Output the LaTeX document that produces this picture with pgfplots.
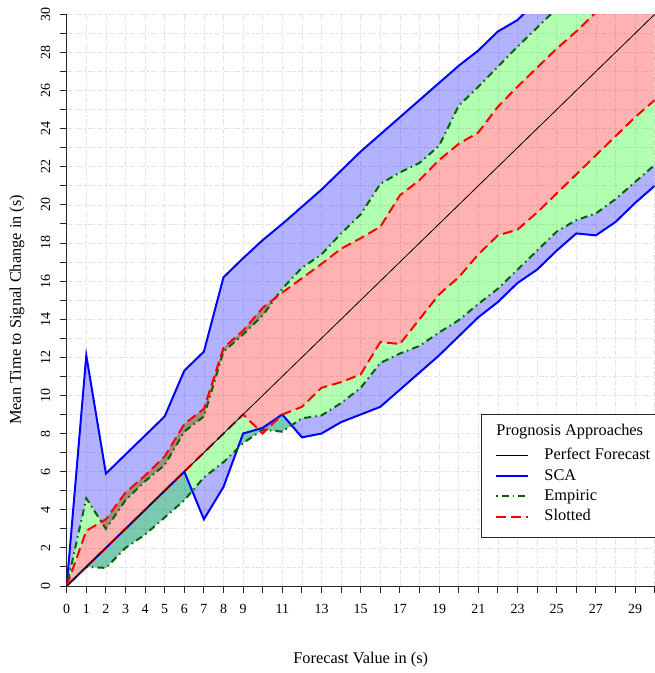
\documentclass[border=0pt]{standalone}
\usepackage{fontspec}
\setmainfont{Liberation Serif}
\usepackage{pgfplots}
\pgfplotsset{compat=1.18}
\usepackage{pgfplotstable}
\usepgfplotslibrary{fillbetween}

\definecolor{dkgreen}{RGB}{0,100,0}

% forecast value, upper/lower bound per approach
\pgfplotstableread{
x  scaU  scaL  empU  empL  slU   slL
0  0     0     0     0     0     0
1  12.1  1     4.6   1.0   2.9   1
2  5.9   2     3.0   0.95  3.5   2
3  6.9   3     4.5   2.0   4.9   3
4  7.9   4     5.5   2.7   5.8   4
5  8.9   5     6.35  3.6   6.8   5
6  11.3  6     8.1   4.5   8.5   6
7  12.3  3.5   8.9   5.7   9.3   7
8  16.2  5.2   12.3  6.5   12.5  8
9  17.2  8.0   13.2  7.5   13.4  9
10 18.15 8.3   14.2  8.2   14.6  8.0
11 19.0  9.0   15.6  8.1   15.4  9.0
12 19.9  7.8   16.7  8.8   16.15 9.4
13 20.8  8.0   17.4  8.95  16.9  10.4
14 21.8  8.6   18.5  9.6   17.7  10.7
15 22.8  9.0   19.5  10.4  18.25 11.1
16 23.7  9.4   21.1  11.7  18.85 12.8
17 24.6  10.3  21.7  12.2  20.5  12.7
18 25.5  11.2  22.2  12.6  21.3  14.0
19 26.4  12.1  23.1  13.3  22.35 15.3
20 27.3  13.1  25.2  13.95 23.2  16.2
21 28.1  14.1  26.2  14.8  23.8  17.4
22 29.1  14.9  27.25 15.6  25.15 18.4
23 29.7  15.9  28.3  16.6  26.2  18.7
24 30.7  16.6  29.3  17.6  27.2  19.6
25 31.7  17.6  30.3  18.6  28.2  20.6
26 32.6  18.5  31.3  19.2  29.1  21.6
27 33.5  18.4  32.2  19.55 30.1  22.6
28 34.4  19.1  33.2  20.3  31.0  23.6
29 35.3  20.1  34.1  21.2  32.0  24.6
30 36.2  21.0  35.1  22.1  33.0  25.5
}\progdata

\begin{document}
\begin{tikzpicture}
\begin{axis}[
  scale only axis, width=588bp, height=571.7bp,
  xmin=0, xmax=30, ymin=0, ymax=30,
  axis x line*=bottom, axis y line*=left,
  x axis line style={-}, y axis line style={-},
  axis line style={black!85, line width=0.9bp},
  xtick={0,...,30}, ytick={0,...,30},
  xticklabels={0,1,2,3,4,5,6,7,8,9,,11,,13,,15,,17,,19,,21,,23,,25,,27,,29,},
  yticklabels={0,,2,,4,,6,,8,,10,,12,,14,,16,,18,,20,,22,,24,,26,,28,,30},
  tick align=outside, major tick length=7bp,
  tick style={black!85, line width=0.9bp},
  grid=major,
  grid style={gray!22, line width=0.7bp, dash pattern=on 5bp off 2bp on 1.5bp off 2bp},
  tick label style={font=\fontsize{14}{16}\selectfont},
  xticklabel shift=8bp, yticklabel shift=6bp,
  yticklabel style={rotate=90, anchor=south},
  label style={font=\fontsize{16.4}{19}\selectfont},
  xlabel={Forecast Value in (s)},
  ylabel={Mean Time to Signal Change in (s)},
  xlabel style={at={(axis description cs:0.5,-0.1294)}, anchor=center},
  ylabel style={at={(axis description cs:-0.0845,0.483)}, anchor=center},
  legend image code/.code={\draw[#1] (0bp,0bp) -- (32bp,0bp);},
  legend cell align=left,
  legend style={at={(axis cs:21.14,9.02)}, anchor=north west,
    draw=black!85, line width=0.9bp, fill=white,
    font=\fontsize{16.4}{19}\selectfont,
    inner xsep=14bp, inner ysep=13bp, column sep=15bp, row sep=4.3bp,
    nodes={inner sep=0bp, text height=12bp, text depth=4bp}},
]
% boundary paths
\addplot[draw=none, name path=sU, forget plot] table[x=x,y=scaU]{\progdata};
\addplot[draw=none, name path=sL, forget plot] table[x=x,y=scaL]{\progdata};
\addplot[draw=none, name path=eU, forget plot] table[x=x,y=empU]{\progdata};
\addplot[draw=none, name path=eL, forget plot] table[x=x,y=empL]{\progdata};
\addplot[draw=none, name path=lU, forget plot] table[x=x,y=slU]{\progdata};
\addplot[draw=none, name path=lL, forget plot] table[x=x,y=slL]{\progdata};

% SCA bands
\addplot[fill=blue, fill opacity=0.3, draw=none, forget plot] fill between[of=sU and eU];
\addplot[fill=blue, fill opacity=0.3, draw=none, forget plot] fill between[of=eL and sL];
\addplot[blue, line width=2bp, forget plot] table[x=x,y=scaU]{\progdata};
\addplot[blue, line width=2bp, forget plot] table[x=x,y=scaL]{\progdata};

% Empiric bands
\addplot[fill=green, fill opacity=0.3, draw=none, forget plot] fill between[of=eU and lU];
\addplot[fill=green, fill opacity=0.3, draw=none, forget plot] fill between[of=lL and eL];
\addplot[dkgreen, line width=2bp, dash pattern=on 1.5bp off 4bp on 7bp off 4bp, forget plot] table[x=x,y=empU]{\progdata};
\addplot[dkgreen, line width=2bp, dash pattern=on 1.5bp off 4bp on 7bp off 4bp, forget plot] table[x=x,y=empL]{\progdata};

% Slotted band
\addplot[fill=red, fill opacity=0.3, draw=none, forget plot] fill between[of=lU and lL];
\addplot[red, line width=2bp, dash pattern=on 10bp off 5bp, forget plot] table[x=x,y=slU]{\progdata};
\addplot[red, line width=2bp, dash pattern=on 10bp off 5bp, forget plot] table[x=x,y=slL]{\progdata};

% perfect forecast
\addplot[black, line width=0.8bp, forget plot] coordinates {(0,0) (30,30)};

\addlegendimage{empty legend}
\addlegendentry{\hspace*{-48bp}\raisebox{4bp}{Prognosis Approaches}}
\addlegendimage{black, line width=0.8bp}
\addlegendentry{Perfect Forecast\hspace*{8bp}}
\addlegendimage{blue, line width=2bp}
\addlegendentry{SCA}
\addlegendimage{dkgreen, line width=2bp, dash pattern=on 1.5bp off 4bp on 7bp off 4bp}
\addlegendentry{Empiric}
\addlegendimage{red, line width=2bp, dash pattern=on 10bp off 5bp}
\addlegendentry{Slotted}
\end{axis}
\pgfresetboundingbox
\path[use as bounding box] ([shift={(-66.7bp,-87bp)}]current axis.south west)
  rectangle ([shift={(0bp,14.3bp)}]current axis.north east);
\end{tikzpicture}
\end{document}
